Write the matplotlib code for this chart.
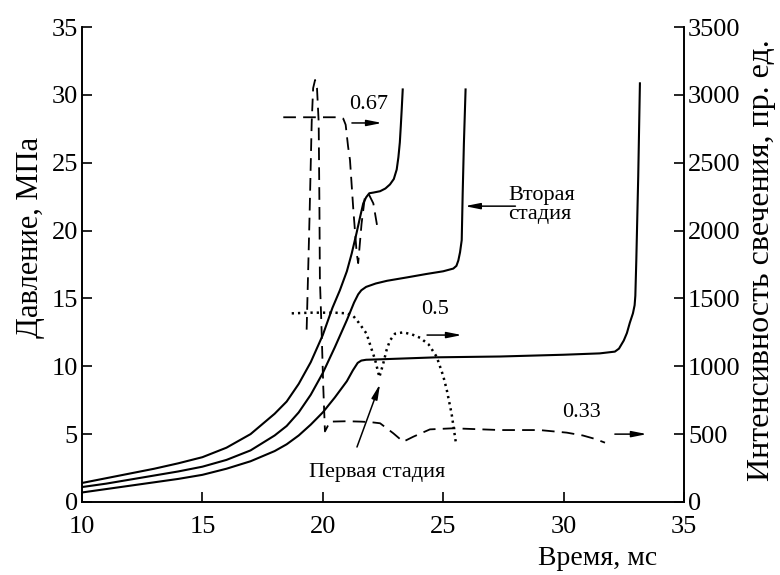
import numpy as np
import matplotlib.pyplot as plt

plt.rcParams['font.family'] = ['Liberation Serif', 'DejaVu Serif']

# давление, МПа (три опыта)
t_a = [10, 11, 12, 13, 14, 15, 16, 17, 18, 18.5, 19, 19.5, 20, 20.4, 20.71,
       21.0, 21.2, 21.4, 21.55, 21.68, 21.8, 21.93, 22.1, 22.38, 22.6, 22.79,
       22.95, 23.07, 23.14, 23.2, 23.24, 23.28, 23.32]
p_a = [1.4, 1.75, 2.1, 2.45, 2.85, 3.3, 4.0, 5.0, 6.5, 7.4, 8.7, 10.3, 12.3,
       14.3, 15.6, 17.0, 18.3, 19.8, 21.0, 22.0, 22.45, 22.75, 22.8, 22.9,
       23.1, 23.4, 23.8, 24.5, 25.4, 26.5, 27.7, 29.0, 30.4]

t_b = [10, 11, 12, 13, 14, 15, 16, 17, 18, 18.5, 19, 19.5, 20, 20.5, 21.0,
       21.3, 21.47, 21.6, 21.8, 22.2, 22.67, 23.5, 24.3, 25.0, 25.42, 25.55,
       25.63, 25.7, 25.77, 25.81, 25.86, 25.93]
p_b = [1.1, 1.35, 1.65, 1.95, 2.25, 2.6, 3.1, 3.8, 4.9, 5.6, 6.6, 7.9, 9.5,
       11.4, 13.4, 14.7, 15.3, 15.6, 15.85, 16.1, 16.3, 16.55, 16.8, 17.0,
       17.2, 17.4, 17.8, 18.4, 19.3, 22.75, 26.4, 30.4]

t_c = [10, 11, 12, 13, 14, 15, 16, 17, 18, 18.5, 19, 19.5, 20, 20.5, 21,
       21.25, 21.45, 21.6, 21.8, 22.5, 24.73, 27.36, 30.0, 31.5, 32.13, 32.3,
       32.5, 32.63, 32.75, 32.88, 32.95, 32.98, 33.02, 33.1, 33.17]
p_c = [0.7, 0.95, 1.2, 1.45, 1.7, 2.0, 2.45, 3.0, 3.75, 4.25, 4.9, 5.7, 6.6,
       7.7, 8.9, 9.7, 10.25, 10.42, 10.48, 10.52, 10.66, 10.72, 10.85, 10.95,
       11.08, 11.3, 11.9, 12.45, 13.2, 13.9, 14.5, 15.2, 17.8, 24.0, 30.85]

# интенсивность свечения, пр. ед.
t_067 = [18.36, 20.7, 20.85, 20.95, 21.05, 21.13, 21.27, 21.41, 21.47,
         21.61, 21.75, 21.89, 22.1, 22.3]
i_067 = [2835, 2835, 2825, 2780, 2620, 2520, 2150, 1830, 1760, 2050, 2250,
         2275, 2200, 1990]

t_05 = [18.71, 19.5, 20.5, 21.0, 21.27, 21.5, 21.82, 22.0, 22.17, 22.35,
        22.51, 22.65, 22.79, 23.0, 23.34, 23.7, 24.04, 24.4, 24.73, 25.0,
        25.15, 25.35, 25.52]
i_05 = [1390, 1395, 1395, 1390, 1370, 1320, 1240, 1140, 1050, 920, 1020,
        1120, 1190, 1240, 1250, 1235, 1210, 1160, 1070, 930, 825, 650, 445]

t_033 = [19.33, 19.45, 19.54, 19.6, 19.68, 19.76, 19.83, 19.86, 19.88,
         19.95, 20.02, 20.09, 20.3, 21.0, 21.6, 22.0, 22.38, 22.93, 23.34,
         23.76, 24.45, 25.42, 27.36, 29.0, 30.13, 30.8, 31.3, 31.72]
i_033 = [1270, 2100, 2800, 3050, 3110, 3050, 2800, 2200, 1640, 1270, 850,
         520, 592, 595, 592, 588, 580, 506, 444, 481, 535, 543, 530, 530,
         511, 490, 465, 437]

fig = plt.figure(figsize=(7.8, 5.75), dpi=100)
ax = fig.add_axes([0.1051, 0.127, 0.7718, 0.826])
ax2 = ax.twinx()

lw = 1.5
ax.plot(t_a, p_a, color='black', lw=lw)
ax.plot(t_b, p_b, color='black', lw=lw)
ax.plot(t_c, p_c, color='black', lw=lw)

dash = (0, (7, 4))
ax2.plot(t_067, i_067, color='black', lw=1.3, linestyle=dash)
ax2.plot(t_033, i_033, color='black', lw=1.3, linestyle=dash)
ax2.plot(t_05, i_05, color='black', lw=1.8, linestyle=(0, (0.9, 1.6)))

ax.set_xlim(10, 35)
ax.set_ylim(0, 35)
ax2.set_ylim(0, 3500)
ax.set_xticks(np.arange(10, 36, 5))
ax.set_yticks(np.arange(0, 36, 5))
ax2.set_yticks(np.arange(0, 3501, 500))

for a in (ax, ax2):
    a.spines['top'].set_visible(False)
    for s in a.spines.values():
        s.set_linewidth(1.2)
    a.tick_params(direction='in', length=7, width=1.2, labelsize=19, pad=3)
ax.tick_params(axis='x', pad=10)

ax.set_xlabel('Время, мс', fontsize=20)
ax.xaxis.set_label_coords(0.857, -0.092)
ax.set_ylabel('Давление, МПа', fontsize=22)
ax.yaxis.set_label_coords(-0.062, 0.558)
ax2.set_ylabel('Интенсивность свечения, пр. ед.', fontsize=23)
ax2.yaxis.set_label_coords(1.104, 0.51)

arr = dict(arrowstyle='-|>,head_length=0.9,head_width=0.18', color='black',
           lw=1.1, shrinkA=0, shrinkB=0)
fs = 16
ax.text(21.92, 29.3, '0.67', fontsize=fs, ha='center', va='center')
ax.annotate('', xy=(22.46, 27.93), xytext=(21.21, 27.93), arrowprops=arr)

ax.text(27.7, 21.9, 'Вторая\nстадия', fontsize=fs, ha='left', va='center',
        linespacing=1.0)
ax.annotate('', xy=(25.9, 21.8), xytext=(28.0, 21.8), arrowprops=arr)

ax.text(24.66, 14.15, '0.5', fontsize=fs, ha='center', va='center')
ax.annotate('', xy=(25.78, 12.3), xytext=(24.33, 12.3), arrowprops=arr)

ax.text(30.76, 6.56, '0.33', fontsize=fs, ha='center', va='center')
ax.annotate('', xy=(33.46, 5.0), xytext=(32.13, 5.0), arrowprops=arr)

ax.text(22.25, 2.14, 'Первая стадия', fontsize=fs, ha='center', va='center')
ax.annotate('', xy=(22.38, 8.7), xytext=(21.42, 4.05), arrowprops=arr)

fig.savefig('out.png', dpi=100)
